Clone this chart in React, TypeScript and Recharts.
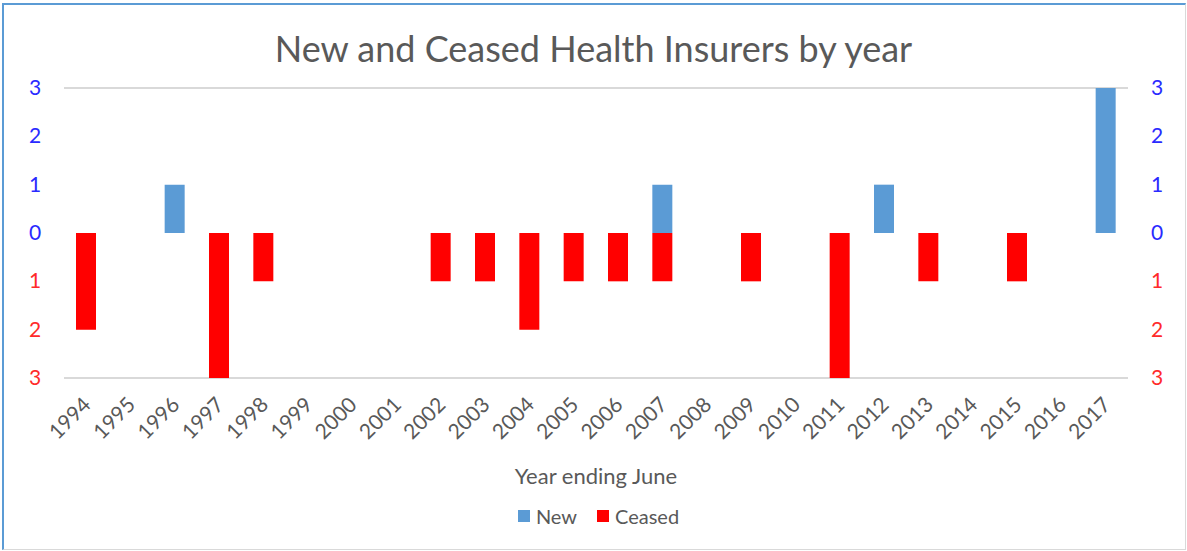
import { ComposedChart, Bar, Line, XAxis, YAxis, CartesianGrid, Legend } from "recharts";

const years = [
  "1994", "1995", "1996", "1997", "1998", "1999", "2000", "2001",
  "2002", "2003", "2004", "2005", "2006", "2007", "2008", "2009",
  "2010", "2011", "2012", "2013", "2014", "2015", "2016", "2017",
];
const newInsurers = [0, 0, 1, 0, 0, 0, 0, 0, 0, 0, 0, 0, 0, 1, 0, 0, 0, 0, 1, 0, 0, 0, 0, 3];
const ceasedInsurers = [2, 0, 0, 3, 1, 0, 0, 0, 1, 1, 2, 1, 1, 1, 0, 1, 0, 3, 0, 1, 0, 1, 0, 0];
const yTicks = [-3, -2, -1, 0, 1, 2, 3];

const BLUE = "#5b9bd5";
const RED = "#ff0000";
const GREY_TEXT = "#595959";
const FONT = "Lato, 'Open Sans', sans-serif";

const data = years.map((year, i) => ({
  year,
  New: newInsurers[i],
  Ceased: -ceasedInsurers[i],
}));

// numbers on both value axes: blue above zero, red below, shown without sign
function YTick({ x, y, payload, shift }: any) {
  const v = payload.value as number;
  return (
    <text
      x={x + shift}
      y={y}
      dy={7}
      textAnchor="middle"
      fontSize={21}
      fontFamily={FONT}
      fill={v < 0 ? "#ff2a2a" : "#2a2aff"}
    >
      {Math.abs(v)}
    </text>
  );
}

function XTick({ x, y, payload }: any) {
  const ax = x + 6;
  const ay = y + 20;
  return (
    <text
      x={ax}
      y={ay}
      textAnchor="end"
      fontSize={21}
      fontFamily={FONT}
      fill={GREY_TEXT}
      transform={`rotate(-45, ${ax}, ${ay})`}
    >
      {payload.value}
    </text>
  );
}

function LegendContent() {
  const items = [
    { label: "New", color: BLUE },
    { label: "Ceased", color: RED },
  ];
  return (
    <div
      style={{
        display: "flex",
        justifyContent: "center",
        gap: 20,
        fontFamily: FONT,
        fontSize: 20,
        color: GREY_TEXT,
        lineHeight: "24px",
        paddingLeft: 10,
      }}
    >
      {items.map((it) => (
        <div key={it.label} style={{ display: "flex", alignItems: "center", gap: 6 }}>
          <span style={{ width: 12, height: 12, background: it.color, display: "inline-block" }} />
          <span>{it.label}</span>
        </div>
      ))}
    </div>
  );
}

export default function App() {
  return (
    <div
      style={{
        position: "absolute",
        left: 0,
        top: 0,
        width: 1187,
        height: 551,
        background: "#fff",
      }}
    >
      <div
        style={{
          position: "absolute",
          top: 26,
          left: 0,
          width: 1187,
          textAlign: "center",
          fontFamily: FONT,
          fontSize: 36,
          lineHeight: "normal",
          color: GREY_TEXT,
        }}
      >
        New and Ceased Health Insurers by year
      </div>
      <ComposedChart
        width={1187}
        height={551}
        data={data}
        stackOffset="sign"
        margin={{ top: 88, right: 0, left: 0, bottom: 23 }}
      >
        <CartesianGrid vertical={false} stroke="#d9d9d9" strokeWidth={2} />
        <XAxis
          dataKey="year"
          axisLine={false}
          tickLine={false}
          interval={0}
          height={126}
          tick={<XTick />}
          label={{
            value: "Year ending June",
            position: "insideBottom",
            offset: 20,
            fill: GREY_TEXT,
            fontSize: 22,
            fontFamily: FONT,
          }}
        />
        <YAxis
          yAxisId="left"
          width={64}
          domain={[-3, 3]}
          ticks={yTicks}
          axisLine={false}
          tickLine={false}
          tick={<YTick shift={-21} />}
        />
        <YAxis
          yAxisId="right"
          orientation="right"
          width={59}
          domain={[-3, 3]}
          ticks={yTicks}
          axisLine={false}
          tickLine={false}
          tick={<YTick shift={21} />}
        />
        <Legend verticalAlign="bottom" height={24} content={<LegendContent />} />
        <Bar yAxisId="left" dataKey="New" stackId="a" fill={BLUE} barSize={20} isAnimationActive={false} />
        <Bar yAxisId="left" dataKey="Ceased" stackId="a" fill={RED} barSize={20} isAnimationActive={false} />
        {/* invisible series so the right-hand axis gets drawn */}
        <Line
          yAxisId="right"
          dataKey="New"
          stroke="none"
          dot={false}
          activeDot={false}
          legendType="none"
          isAnimationActive={false}
        />
      </ComposedChart>
      {/* chart frame: blue on top/left, grey on right/bottom */}
      <div
        style={{
          position: "absolute",
          left: 2,
          top: 3,
          width: 1184,
          height: 547,
          boxSizing: "border-box",
          borderTop: "2px solid #5b9bd5",
          borderLeft: "2px solid #5b9bd5",
          borderRight: "1px solid #d9d9d9",
          borderBottom: "1px solid #d9d9d9",
          pointerEvents: "none",
        }}
      />
    </div>
  );
}
